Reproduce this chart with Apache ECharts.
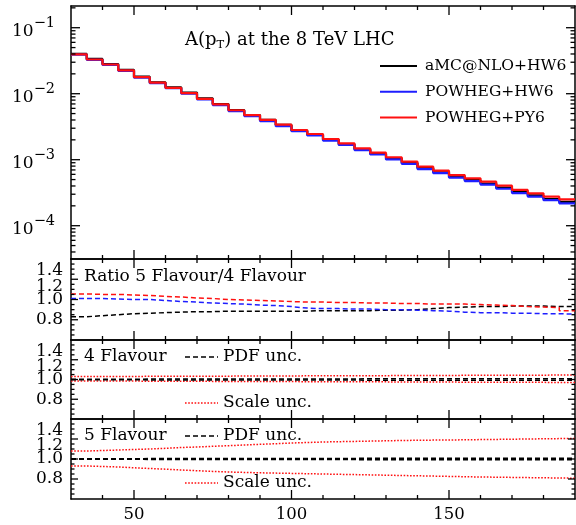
<!DOCTYPE html>
<html><head><meta charset="utf-8">
<script src="https://cdn.jsdelivr.net/npm/echarts@6/dist/echarts.min.js"></script>
<style>html,body{margin:0;padding:0;background:#fff}#c{width:576px;height:525px}</style>
</head><body><div id="c"></div>
<script>
// ---- data ----
const binLow = [30,35,40,45,50,55,60,65,70,75,80,85,90,95,100,105,110,115,120,125,130,135,140,145,150,155,160,165,170,175,180,185];
const binHigh = 190;
const xTickLabels = [50,100,150];
const yTopTicks = [1e-4,1e-3,1e-2,1e-1];
const ratioTickLabels = ['0.8','1.0','1.2','1.4'];
const ratioLabelPos = [0.8,1.0,1.13,1.285];

const amcHW6 = [0.0401,0.0336,0.0282,0.0229,0.0181,0.0149,0.0125,0.0104,0.00851,0.00698,0.00566,0.00475,0.00400,0.00336,
  0.00275,0.00239,0.00200,0.00171,0.00144,0.00123,0.00104,0.000891,0.000746,0.000646,0.000553,0.000491,0.000435,0.000377,0.000324,0.000288,0.000254,0.000229];
const powhegHW6 = [0.0390,0.0326,0.0273,0.0222,0.0175,0.0144,0.0121,0.0100,0.00822,0.00673,0.00546,0.00458,0.00385,0.00322,
  0.00270,0.00233,0.00195,0.00167,0.00140,0.00120,0.00101,0.000865,0.000722,0.000625,0.000536,0.000475,0.000420,0.000363,0.000312,0.000276,0.000244,0.000218];
const powhegPY6 = [0.0394,0.0330,0.0277,0.0225,0.0178,0.0147,0.0123,0.0102,0.00838,0.00690,0.00562,0.00474,0.00402,0.00340,
  0.00282,0.00245,0.00206,0.00177,0.00149,0.00128,0.00109,0.000933,0.000783,0.000681,0.000586,0.000522,0.000465,0.000404,0.000348,0.000310,0.000275,0.000251];

const ratioPY6 = [1.055,1.05,1.05,1.045,1.04,1.03,1.025,1.015,1.01,1.0,0.995,0.99,0.985,0.98,0.975,0.975,0.97,0.97,0.965,0.965,0.96,0.96,0.955,0.955,0.955,0.95,0.945,0.94,0.93,0.925,0.92,0.89];
const ratioHW6 = [1.01,1.01,1.005,1.0,1.0,0.99,0.98,0.975,0.965,0.96,0.955,0.945,0.94,0.93,0.915,0.91,0.91,0.905,0.905,0.9,0.9,0.895,0.89,0.885,0.875,0.87,0.87,0.865,0.865,0.86,0.86,0.855];
const ratioAMC = [0.83,0.84,0.85,0.86,0.865,0.87,0.875,0.88,0.88,0.885,0.885,0.885,0.885,0.885,0.885,0.89,0.89,0.89,0.89,0.895,0.895,0.9,0.91,0.92,0.925,0.93,0.93,0.935,0.935,0.935,0.93,0.93];

const pdf4Up = [1.003,1.003,1.003,1.003,1.004,1.004,1.004,1.004,1.005,1.005,1.005,1.005,1.005,1.006,1.006,1.006,1.006,1.006,1.007,1.007,1.007,1.007,1.007,1.007,1.008,1.008,1.008,1.008,1.008,1.008,1.008,1.008];
const pdf4Dn = [0.997,0.997,0.997,0.997,0.996,0.996,0.996,0.996,0.995,0.995,0.995,0.995,0.995,0.994,0.994,0.994,0.994,0.994,0.993,0.993,0.993,0.993,0.993,0.993,0.992,0.992,0.992,0.992,0.992,0.992,0.992,0.992];
const scale4Up = [1.030,1.030,1.031,1.031,1.032,1.032,1.033,1.033,1.034,1.034,1.035,1.035,1.036,1.036,1.037,1.037,1.038,1.038,1.039,1.039,1.040,1.040,1.041,1.041,1.042,1.042,1.043,1.043,1.044,1.044,1.045,1.045];
const scale4Dn = [0.985,0.985,0.984,0.984,0.983,0.983,0.982,0.982,0.981,0.981,0.980,0.980,0.979,0.979,0.978,0.978,0.977,0.977,0.976,0.976,0.975,0.975,0.974,0.974,0.973,0.973,0.972,0.972,0.971,0.971,0.970,0.970];

const pdf5Up = [1.003,1.003,1.003,1.003,1.004,1.004,1.004,1.004,1.005,1.005,1.005,1.005,1.005,1.006,1.006,1.006,1.006,1.006,1.007,1.007,1.007,1.007,1.007,1.007,1.008,1.008,1.008,1.008,1.008,1.008,1.008,1.008];
const pdf5Dn = [0.997,0.997,0.997,0.997,0.996,0.996,0.996,0.996,0.995,0.995,0.995,0.995,0.995,0.994,0.994,0.994,0.994,0.994,0.993,0.993,0.993,0.993,0.993,0.993,0.992,0.992,0.992,0.992,0.992,0.992,0.992,0.992];
const scale5Up = [1.08,1.085,1.09,1.095,1.10,1.107,1.115,1.12,1.127,1.133,1.14,1.147,1.153,1.16,1.165,1.17,1.173,1.176,1.179,1.182,1.185,1.187,1.189,1.19,1.192,1.194,1.196,1.198,1.20,1.202,1.204,1.206];
const scale5Dn = [0.93,0.925,0.92,0.912,0.905,0.898,0.89,0.883,0.876,0.87,0.866,0.862,0.859,0.856,0.853,0.85,0.847,0.844,0.841,0.838,0.835,0.832,0.829,0.826,0.823,0.82,0.818,0.816,0.814,0.812,0.81,0.808];

// ---- chart ----
const FONT = 'DejaVu Serif';
const BLACK = '#000000', BLUE = '#1e1eff', RED = '#ff1010';
const yTopMin = 3.13e-5, yTopMax = 0.2133;
const ratioMin = 0.6, ratioMax = 1.4;
const chart = echarts.init(document.getElementById('c'));

const grids = [
  {left:71, top:6, width:504, height:253},
  {left:71, top:259, width:504, height:81},
  {left:71, top:340, width:504, height:79},
  {left:71, top:419, width:504, height:80}
];
const xAxes = [], yAxes = [];
function axLine(){ return {show:true, onZero:false, lineStyle:{color:'#000', width:1.5}}; }
const xMain = [], yMain = [];
for (let gi=0; gi<4; gi++){
  xMain[gi] = xAxes.length;
  xAxes.push({type:'value', gridIndex:gi, min:30, max:binHigh, position:'bottom', splitLine:{show:false}, axisLine:axLine(), axisTick:{show:false},
    axisLabel: gi===3 ? {show:true, customValues:xTickLabels, fontFamily:FONT, fontSize:16.5, color:'#000', margin:7} : {show:false}});
  xAxes.push({type:'value', gridIndex:gi, min:30, max:binHigh, position:'top', splitLine:{show:false}, axisLine:axLine(), axisTick:{show:false}, axisLabel:{show:false}});
}
yMain[0] = yAxes.length;
yAxes.push({type:'log', logBase:10, min:yTopMin, max:yTopMax, gridIndex:0, position:'left', splitLine:{show:false}, axisLine:axLine(), axisTick:{show:false},
  axisLabel:{show:true, customValues:yTopTicks, margin:16,
    formatter: v => '{b|10}{s|\u2212' + Math.round(-Math.log10(v)) + '}',
    rich:{b:{fontFamily:FONT, fontSize:17, color:'#000', lineHeight:24, verticalAlign:'bottom'}, s:{fontFamily:FONT, fontSize:14.5, color:'#000', verticalAlign:'top', lineHeight:17}}}});
yAxes.push({type:'log', logBase:10, min:yTopMin, max:yTopMax, gridIndex:0, position:'right', splitLine:{show:false}, axisLine:axLine(), axisTick:{show:false}, axisLabel:{show:false}});
for (let gi=1; gi<4; gi++){
  yMain[gi] = yAxes.length;
  yAxes.push({type:'value', min:ratioMin, max:ratioMax, interval:0.2, gridIndex:gi, position:'left', splitLine:{show:false}, axisLine:axLine(), axisTick:{show:false}, axisLabel:{show:false}});
  yAxes.push({type:'value', min:ratioMin, max:ratioMax, interval:0.2, gridIndex:gi, position:'right', splitLine:{show:false}, axisLine:axLine(), axisTick:{show:false}, axisLabel:{show:false}});
}

function hist(name, vals, gi, color, width, dash){
  const data = binLow.map((x,i)=>[x, vals[i]]);
  data.push([binHigh, vals[vals.length-1]]);
  return {type:'line', name, xAxisIndex:xMain[gi], yAxisIndex:yMain[gi], step:'end', showSymbol:false, symbol:'none',
    data, lineStyle:{color, width, type:dash||'solid'}, itemStyle:{color}, silent:true};
}
const DASH = [5,3], DOT = [1.6,1.6];
const series = [
  hist('aMC@NLO+HW6', amcHW6, 0, BLACK, 2.2),
  hist('POWHEG+HW6', powhegHW6, 0, BLUE, 2.2),
  hist('POWHEG+PY6', powhegPY6, 0, RED, 2.2),
  hist('r_amc', ratioAMC, 1, BLACK, 1.5, DASH),
  hist('r_hw6', ratioHW6, 1, BLUE, 1.5, DASH),
  hist('r_py6', ratioPY6, 1, RED, 1.5, DASH),
  hist('s4u', scale4Up, 2, RED, 1.5, DOT),
  hist('s4d', scale4Dn, 2, RED, 1.5, DOT),
  hist('p4u', pdf4Up, 2, BLACK, 1.5, DASH),
  hist('p4d', pdf4Dn, 2, BLACK, 1.5, DASH),
  hist('s5u', scale5Up, 3, RED, 1.5, DOT),
  hist('s5d', scale5Dn, 3, RED, 1.5, DOT),
  hist('p5u', pdf5Up, 3, BLACK, 1.5, DASH),
  hist('p5d', pdf5Dn, 3, BLACK, 1.5, DASH)
];

chart.setOption({
  animation:false,
  grid: grids, xAxis: xAxes, yAxis: yAxes,
  legend:{orient:'vertical', left:375, top:52, itemWidth:37, itemHeight:2, itemGap:7.8, icon:'rect',
    selectedMode:false, data:['aMC@NLO+HW6','POWHEG+HW6','POWHEG+PY6'],
    textStyle:{fontFamily:FONT, fontSize:15.5, color:'#000', lineHeight:18, padding:[0,0,0,3]}},
  series
});

// ---- ticks (as small filled bars), labels and annotations placed through the axes' own scales ----
const tFont = '17px "DejaVu Serif"';
const g = [];
const TW = 1.3;
function txt(x, y, text, align){ return {type:'text', x, y, z:10, style:{text, font:tFont, fill:'#000', verticalAlign:'middle', align:align||'left'}}; }
function seg(x1, x2, y, color, dash){ return {type:'line', z:10, shape:{x1, y1:y, x2, y2:y}, style:{stroke:color, lineWidth:1.5, lineDash:dash}}; }
function vbar(x, y0, L){ // vertical tick starting at y0, length L (negative = upwards)
  const y = Math.min(y0, y0 + L);
  return {type:'rect', z:11, silent:true, shape:{x:Number(x) - TW/2, y:Number(y), width:TW, height:Math.abs(L)}, style:{fill:'#000', stroke:null}};
}
function hbar(x0, y, L){ // horizontal tick starting at x0, length L (negative = leftwards)
  const x = Math.min(x0, x0 + L);
  return {type:'rect', z:11, silent:true, shape:{x:Number(x), y:Number(y) - TW/2, width:Math.abs(L), height:TW}, style:{fill:'#000', stroke:null}};
}

const px = (gi, v) => Number(chart.convertToPixel({xAxisIndex:xMain[gi]}, v));
const py = (gi, v) => Number(chart.convertToPixel({yAxisIndex:yMain[gi]}, v));
for (let gi=0; gi<4; gi++){
  const xl = px(gi, 30), xr = px(gi, binHigh);
  const yt = gi===0 ? py(0, yTopMax) : py(gi, ratioMax);
  const yb = gi===0 ? py(0, yTopMin) : py(gi, ratioMin);
  for (let v=40; v<binHigh; v+=10){
    const L = xTickLabels.includes(v) ? 9 : 4;
    const x = px(gi, v);
    g.push(vbar(x, yb, -L), vbar(x, yt, L));
  }
  if (gi===0){
    for (let e=-5; e<=-1; e++) for (let m=1; m<=9; m++){
      const v = m*Math.pow(10,e);
      if (v<=yTopMin || v>=yTopMax) continue;
      const L = m===1 ? 9 : 4.5, y = py(0, v);
      g.push(hbar(xl, y, L), hbar(xr, y, -L));
    }
  } else {
    for (let k=1; k<16; k++){
      const L = k%4===0 ? 7 : 3.5, y = py(gi, ratioMin + k*0.05);
      g.push(hbar(xl, y, L), hbar(xr, y, -L));
    }
    ratioLabelPos.forEach((p,i)=>{ g.push(txt(xl - 8, py(gi, p), ratioTickLabels[i], 'right')); });
  }
}

g.push({type:'text', x:185, y:40, z:10, style:{text:'{a|A(p}{t|T}{a|) at the 8 TeV LHC}', verticalAlign:'middle',
    rich:{a:{fontFamily:FONT, fontSize:18, fill:'#000', lineHeight:22}, t:{fontFamily:FONT, fontSize:11.5, fill:'#000', verticalAlign:'bottom', lineHeight:12}}}});
g.push(txt(84, 277, 'Ratio 5 Flavour/4 Flavour'));
g.push(txt(84, 357, '4 Flavour'), seg(185, 218, 357, '#000', DASH), txt(223, 357, 'PDF unc.'));
g.push(seg(185, 218, 403, RED, DOT), txt(223, 403, 'Scale unc.'));
g.push(txt(84, 436, '5 Flavour'), seg(185, 218, 436, '#000', DASH), txt(223, 436, 'PDF unc.'));
g.push(seg(185, 218, 483, RED, DOT), txt(223, 483, 'Scale unc.'));

chart.setOption({graphic: g});
</script></body></html>
